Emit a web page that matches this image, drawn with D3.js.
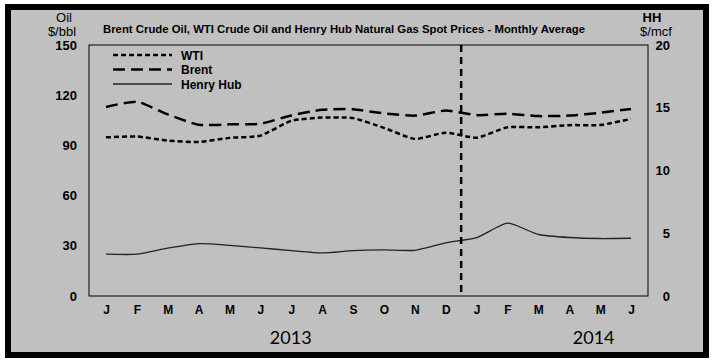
<!DOCTYPE html>
<meta charset="utf-8">
<title>Brent, WTI and Henry Hub spot prices</title>
<script src="https://d3js.org/d3.v7.min.js"></script>
<style>
  body { margin: 0; background: #fff; }
  svg text { font-family: "Liberation Sans", Arial, sans-serif; fill: #000; }
</style>
<body>
<svg class=chart width=715 height=362></svg>
<script>

var months = ["J","F","M","A","M","J","J","A","S","O","N","D","J","F","M","A","M","J"];
var years = ["2013", "2014"];
var wti = [94.8, 95.3, 92.9, 92.0, 94.5, 95.8, 104.7, 106.6, 106.3, 100.5, 93.9, 97.6, 94.6, 100.8, 100.8, 102.1, 102.2, 105.8];
var brent = [113.0, 116.1, 108.5, 102.3, 102.6, 102.9, 107.9, 111.3, 111.6, 109.1, 107.8, 110.8, 108.1, 108.9, 107.5, 107.8, 109.5, 111.8];
var henryHub = [3.33, 3.33, 3.81, 4.17, 4.04, 3.83, 3.62, 3.43, 3.62, 3.68, 3.64, 4.24, 4.65, 5.8, 4.9, 4.66, 4.58, 4.6];
var oilTicks = [0, 30, 60, 90, 120, 150];
var hhTicks = [0, 5, 10, 15, 20];

var plotLeft = 89, plotRight = 648, plotTop = 45, plotBottom = 296;

var svg = d3.select(".chart");

// outer frame
svg.append("rect").attr("x", 8).attr("y", 7).attr("width", 698).attr("height", 348)
  .attr("fill", "#c0c0c0").attr("stroke", "#000").attr("stroke-width", 6);

var idx = d3.range(months.length);
var x = d3.scalePoint().domain(idx).range([plotLeft, plotRight]).padding(0.55);
var yOil = d3.scaleLinear().domain([0, 150]).range([plotBottom, plotTop]);
var yHH = d3.scaleLinear().domain([0, 20]).range([plotBottom, plotTop]);

svg.append("rect").attr("x", plotLeft).attr("y", plotTop)
  .attr("width", plotRight - plotLeft).attr("height", plotBottom - plotTop)
  .attr("fill", "none").attr("stroke", "#000").attr("stroke-width", 1);

var axL = svg.append("g").attr("transform", "translate(" + (plotLeft - 12) + ",0)")
  .call(d3.axisLeft(yOil).tickValues(oilTicks).tickSize(0).tickPadding(0));
var axR = svg.append("g").attr("transform", "translate(" + (plotRight + 22) + ",0)")
  .call(d3.axisLeft(yHH).tickValues(hhTicks).tickSize(0).tickPadding(0));
var axB = svg.append("g").attr("transform", "translate(0," + (plotBottom + 9) + ")")
  .call(d3.axisBottom(x).tickFormat(function(i) { return months[i]; }).tickSize(0).tickPadding(0));
[axL, axR, axB].forEach(function(a) {
  a.select(".domain").remove();
  a.selectAll("text").style("font-family", "Liberation Sans").style("font-weight", "bold").style("fill", "#000");
});
axL.selectAll("text").style("font-size", "13px");
axR.selectAll("text").style("font-size", "13px");
axB.selectAll("text").style("font-size", "12px");

// units
svg.append("text").attr("x", 64).attr("y", 22).attr("text-anchor", "middle")
  .style("font-size", "13px").text("Oil");
svg.append("text").attr("x", 62).attr("y", 36).attr("text-anchor", "middle")
  .style("font-size", "13px").text("$/bbl");
svg.append("text").attr("x", 652).attr("y", 22).attr("text-anchor", "middle")
  .style("font-size", "13px").style("font-weight", "bold").text("HH");
svg.append("text").attr("x", 656).attr("y", 36).attr("text-anchor", "middle")
  .style("font-size", "13px").text("$/mcf");

svg.append("text").attr("x", 103).attr("y", 33)
  .style("font-size", "11px").style("font-weight", "bold")
  .attr("textLength", 482).attr("lengthAdjust", "spacingAndGlyphs")
  .text("Brent Crude Oil, WTI Crude Oil and Henry Hub  Natural Gas Spot Prices - Monthly Average");

// years
svg.append("text").attr("x", (x(6) + x(7)) / 2 - 16).attr("y", 344).attr("text-anchor", "middle")
  .style("font-family", "Lato").style("font-size", "18px").text(years[0]);
svg.append("text").attr("x", (x(15) + x(16)) / 2 + 9).attr("y", 344).attr("text-anchor", "middle")
  .style("font-family", "Lato").style("font-size", "18px").text(years[1]);

var series = [
  { name: "WTI", values: wti, y: yOil, dash: "5,3", width: 2.5, color: "#000" },
  { name: "Brent", values: brent, y: yOil, dash: "12,6", width: 2.5, color: "#000" },
  { name: "Henry Hub", values: henryHub, y: yHH, dash: null, width: 1.3, color: "#222" }
];

series.forEach(function(s, k) {
  var line = d3.line()
    .x(function(d, i) { return x(i); })
    .y(function(d) { return s.y(d); })
    .curve(d3.curveCardinal.tension(0.45));
  svg.append("path").datum(s.values)
    .attr("d", line)
    .attr("fill", "none")
    .attr("stroke", s.color)
    .attr("stroke-width", s.width)
    .attr("stroke-dasharray", s.dash);

  var ly = 55 + k * 14.5;
  svg.append("line").attr("x1", 113).attr("x2", 172).attr("y1", ly).attr("y2", ly)
    .attr("stroke", s.color).attr("stroke-width", s.width).attr("stroke-dasharray", s.dash);
  svg.append("text").attr("x", 181).attr("y", ly + 4.5)
    .style("font-size", "12px").style("font-weight", "bold").text(s.name);
});

// divider between 2013 and 2014
var xd = (x(11) + x(12)) / 2;
svg.append("line").attr("x1", xd).attr("x2", xd).attr("y1", plotTop).attr("y2", plotBottom)
  .attr("stroke", "#000").attr("stroke-width", 2.5).attr("stroke-dasharray", "7,5");

</script>
</body>
